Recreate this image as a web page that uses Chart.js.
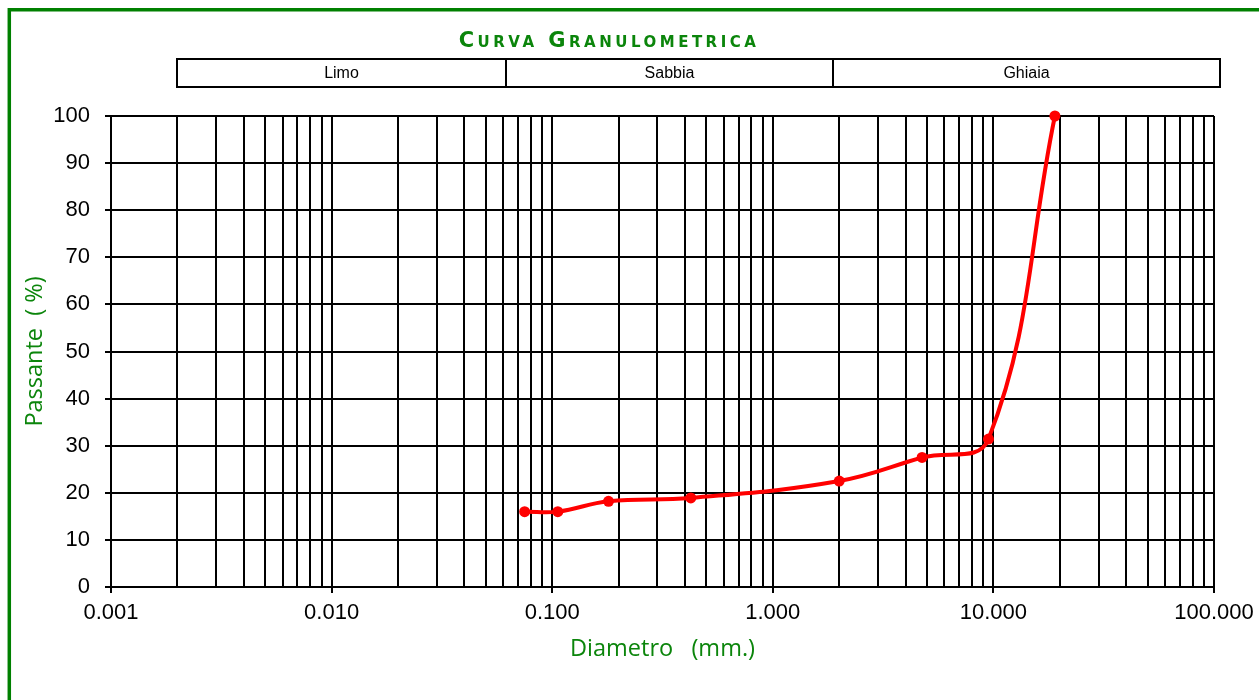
<!DOCTYPE html>
<html>
<head>
<meta charset="utf-8">
<title>Curva Granulometrica</title>
<script src="https://cdn.jsdelivr.net/npm/chart.js@4.4.0/dist/chart.umd.min.js"></script>
<style>
  html, body { margin: 0; padding: 0; background: #fff; }
  #wrap { width: 1259px; height: 700px; }
</style>
</head>
<body>
<div id="wrap"><canvas id="granChart" width="1259" height="700"></canvas></div>
<script>
// sieve data (mm) and percent passing
const sieveSizes = [0.075, 0.106, 0.18, 0.425, 2, 4.75, 9.5, 19];
const passing = [16, 16, 18.2, 18.9, 22.5, 27.5, 31.4, 100];

// axis ticks
const decades = [0.001, 0.01, 0.1, 1, 10, 100];
const minorSteps = [1, 2, 3, 4, 5, 6, 7, 8, 9];
const yMin = 0, yMax = 100, yStep = 10;

// soil classes band above the plot
const bandNames = ['Limo', 'Sabbia', 'Ghiaia'];
const bandEdges = [0.002, 0.062, 1.87, 106];

const GREEN = '#0b850b';
const xTickValues = [];
decades.slice(0, -1).forEach(d => minorSteps.forEach(m => xTickValues.push(+(m * d).toPrecision(3))));
xTickValues.push(decades[decades.length - 1]);
const isDecade = v => decades.some(d => Math.abs(d - v) < d * 1e-6);

const framePlugin = {
  id: 'frame',
  afterDraw(chart) {
    const ctx = chart.ctx;
    const x = chart.scales.x;
    ctx.save();
    // green frame (top + left visible)
    ctx.strokeStyle = '#008000';
    ctx.lineWidth = 3.5;
    ctx.beginPath();
    ctx.moveTo(9.3, 720);
    ctx.lineTo(9.3, 9.8);
    ctx.lineTo(1280, 9.8);
    ctx.stroke();

    // title
    ctx.fillStyle = GREEN;
    ctx.font = 'small-caps bold 21px "DejaVu Sans"';
    ctx.letterSpacing = '3.5px';
    ctx.textAlign = 'center';
    ctx.textBaseline = 'alphabetic';
    ctx.fillText('Curva Granulometrica', 609, 47);
    ctx.letterSpacing = '0px';

    // class boxes
    ctx.strokeStyle = '#000';
    ctx.lineWidth = 2;
    ctx.font = '16px "Liberation Sans", Arial, sans-serif';
    ctx.fillStyle = '#000';
    ctx.textBaseline = 'middle';
    bandNames.forEach((name, i) => {
      const x0 = Math.round(x.getPixelForValue(bandEdges[i]));
      const x1 = Math.round(x.getPixelForValue(bandEdges[i + 1]));
      ctx.strokeRect(x0, 59, x1 - x0, 28);
      ctx.fillText(name, (x0 + x1) / 2, 73.5);
    });
    ctx.restore();
  }
};

new Chart(document.getElementById('granChart'), {
  type: 'line',
  data: {
    datasets: [{
      data: sieveSizes.map((s, i) => ({ x: s, y: passing[i] })),
      borderColor: '#ff0000',
      backgroundColor: '#ff0000',
      borderWidth: 4,
      pointRadius: 5.5,
      pointHoverRadius: 5.5,
      pointBackgroundColor: '#ff0000',
      pointBorderWidth: 0,
      tension: 0.4,
      clip: false,
      fill: false
    }]
  },
  options: {
    responsive: false,
    animation: false,
    layout: { padding: { left: 12, right: 45, top: 116, bottom: 0 } },
    plugins: { legend: { display: false }, tooltip: { enabled: false } },
    scales: {
      x: {
        type: 'logarithmic',
        min: decades[0],
        max: decades[decades.length - 1],
        afterBuildTicks: scale => { scale.ticks = xTickValues.map(v => ({ value: v })); },
        afterFit: scale => { scale.height = 113; scale.paddingLeft = 0; scale.paddingRight = 0; },
        ticks: {
          autoSkip: false,
          maxRotation: 0,
          padding: 7,
          color: '#000',
          font: { family: '"Liberation Sans", Arial, sans-serif', size: 22 },
          callback: v => isDecade(v) ? v.toFixed(3) : ''
        },
        grid: {
          color: '#000',
          lineWidth: 2,
          tickLength: 6,
          tickColor: c => (c.tick && isDecade(c.tick.value)) ? '#000' : 'rgba(0,0,0,0)'
        },
        border: { color: '#000', width: 2 },
        title: {
          display: true,
          text: 'Diametro   (mm.)',
          color: GREEN,
          font: { family: '"Open Sans", sans-serif', size: 23.5 },
          padding: { top: 0, bottom: 37 }
        }
      },
      y: {
        min: yMin,
        max: yMax,
        afterFit: scale => { scale.width = 99; },
        ticks: {
          stepSize: yStep,
          padding: 15,
          color: '#000',
          font: { family: '"Liberation Sans", Arial, sans-serif', size: 22 }
        },
        grid: { color: '#000', lineWidth: 2, tickLength: 6, tickColor: '#000' },
        border: { color: '#000', width: 2 },
        title: {
          display: true,
          text: 'Passante  ( %)',
          color: GREEN,
          font: { family: '"Open Sans", sans-serif', size: 23.5 },
          padding: { top: 9, bottom: 0 }
        }
      }
    }
  },
  plugins: [framePlugin]
});
</script>
</body>
</html>
